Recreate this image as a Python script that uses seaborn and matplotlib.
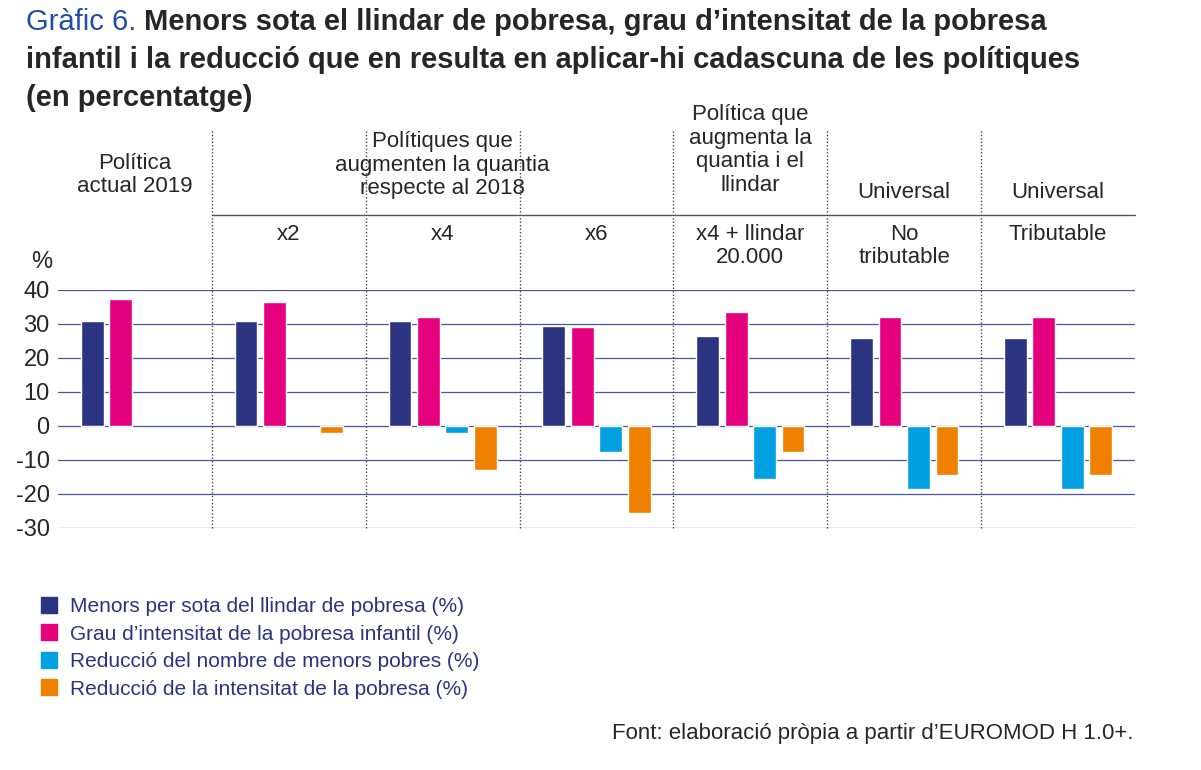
import numpy as np
import pandas as pd
import matplotlib.pyplot as plt
import seaborn as sns
from matplotlib.patches import Patch

# DADES #
grups = ['actual', 'x2', 'x4', 'x6', 'x4ll', 'notrib', 'trib']
series = ['Menors per sota del llindar de pobresa (%)',
          'Grau d\u2019intensitat de la pobresa infantil (%)',
          'Reducció del nombre de menors pobres (%)',
          'Reducció de la intensitat de la pobresa (%)']
menors = [31, 31, 31, 29.5, 26.5, 26, 26]
intensitat = [37.5, 36.5, 32, 29, 33.5, 32, 32]
reduccio_menors = [np.nan, np.nan, -2, -7.5, -15.5, -18.5, -18.5]
reduccio_intens = [np.nan, -2, -13, -25.5, -7.5, -14.5, -14.5]
colors = ['#2b3481', '#e5007e', '#00a0e3', '#f08000']

cap1 = ['Política\nactual 2019', 'Polítiques que\naugmenten la quantia\nrespecte al 2018',
        'Política que\naugmenta la\nquantia i el\nllindar', 'Universal', 'Universal']
cap1_pos = [0, 2, 4, 5, 6]
cap1_y = [175, 165, 150, 192, 192]
cap2 = ['', 'x2', 'x4', 'x6', 'x4 + llindar\n20.000', 'No\ntributable', 'Tributable']

rows = []
for i, g in enumerate(grups):
    for s, vals in zip(series, [menors, intensitat, reduccio_menors, reduccio_intens]):
        rows.append({'grup': g, 'serie': s, 'valor': vals[i]})
df = pd.DataFrame(rows)

sns.set_style('white')
plt.rcParams['font.family'] = ['Liberation Sans', 'DejaVu Sans']
plt.rcParams['axes.unicode_minus'] = False
navy = '#2b3481'

W, H = 1201, 770
fig = plt.figure(figsize=(12.01, 7.70), dpi=100)
ax = fig.add_axes([58/W, 1-528/H, (1135-58)/W, 238/H])
sns.barplot(data=df, x='grup', y='valor', hue='serie', hue_order=series,
            palette=colors, width=0.74, gap=0.2, ax=ax, legend=False, saturation=1)
ax.set_xlim(-0.5, 6.5)
ax.set_ylim(-30, 40)
ax.set_yticks(range(-30, 41, 10))
ax.set_xticks([])
ax.set_xlabel('')
ax.set_ylabel('')
for y in range(-30, 41, 10):
    ax.axhline(y, color='#4a55a0', lw=0.9, zorder=0)
for sp in ax.spines.values():
    sp.set_visible(False)
ax.tick_params(axis='y', length=0, labelsize=17, pad=6)

for x in [0.5, 1.5, 2.5, 3.5, 4.5, 5.5]:
    ax.axvline(x, ymin=0, ymax=(528-130)/238, color='#444444', lw=1, ls=(0, (1, 1.5)), clip_on=False)
ax.plot([0.5, 6.5], [(528-215)/238]*2, transform=ax.get_xaxis_transform(),
        color='#555555', lw=1, clip_on=False)

# capçaleres en coordenades de figura
def fx(i):
    return ax.transData.transform((i, 0))[0] / W

for t, p, y in zip(cap1, cap1_pos, cap1_y):
    fig.text(fx(p), 1-y/H, t, ha='center', va='center', fontsize=16, linespacing=1.15)
for i, t in enumerate(cap2):
    fig.text(fx(i), 1-224/H, t, ha='center', va='top', fontsize=16, linespacing=1.15)
fig.text(42/W, 1-262/H, '%', fontsize=17, ha='center', va='center')

# TÍTOL #
t1 = fig.text(26/W, 1-22/H, 'Gràfic 6.', fontsize=21, color='#1f4ea3', va='center')
fig.canvas.draw()
bb = t1.get_window_extent()
fig.text((bb.x1 + 8)/W, 1-22/H,
         'Menors sota el llindar de pobresa, grau d\u2019intensitat de la pobresa',
         fontsize=21, fontweight='bold', va='center')
fig.text(26/W, 1-60/H,
         'infantil i la reducció que en resulta en aplicar-hi cadascuna de les polítiques',
         fontsize=21, fontweight='bold', va='center')
fig.text(26/W, 1-98/H, '(en percentatge)', fontsize=21, fontweight='bold', va='center')

# LLEGENDA #
handles = [Patch(color=c, label=s) for c, s in zip(colors, series)]
fig.legend(handles=handles, loc='upper left', bbox_to_anchor=(22/W, 1-578/H),
           frameon=False, fontsize=15, labelcolor=navy, handlelength=0.8,
           handleheight=0.8, handletextpad=0.6, labelspacing=0.4)

fig.text(1133/W, 1-733/H, 'Font: elaboració pròpia a partir d\u2019EUROMOD H 1.0+.',
         fontsize=16, ha='right', va='center')

fig.savefig('out.png', dpi=100)
